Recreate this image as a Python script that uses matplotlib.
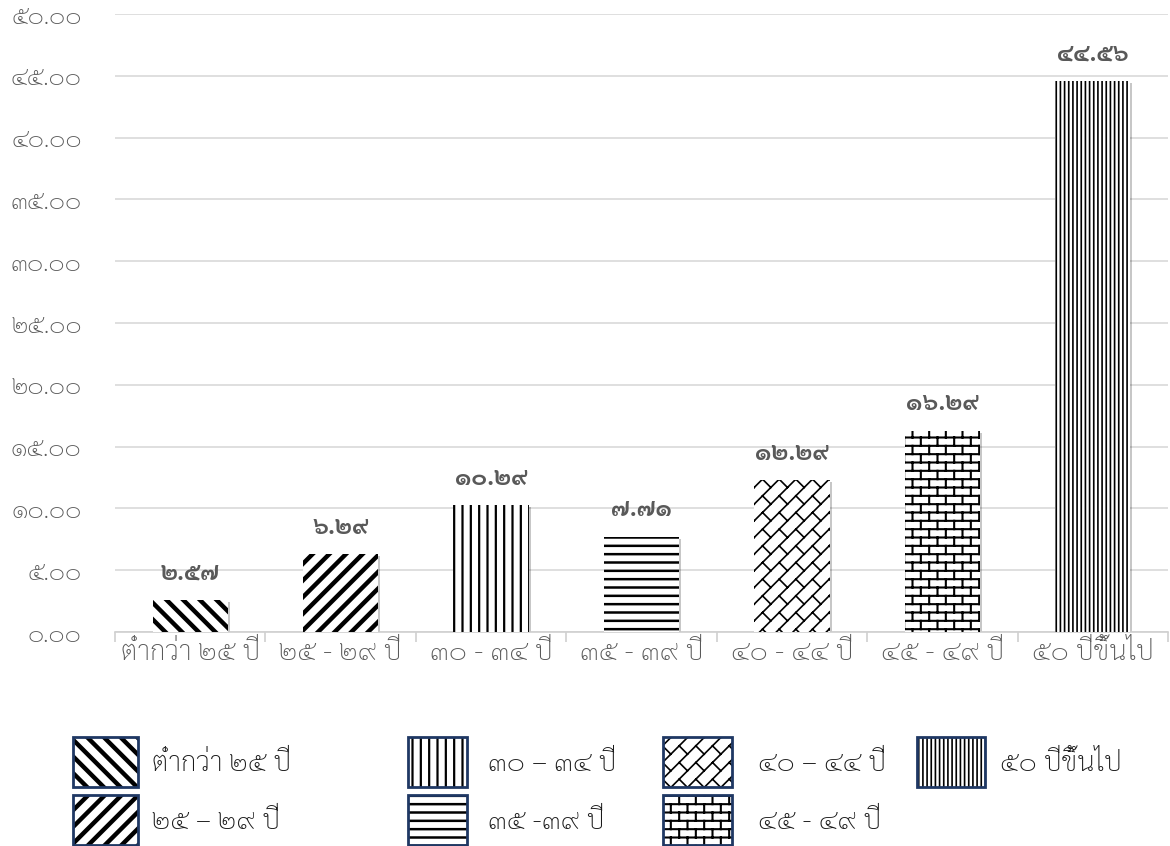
import matplotlib
matplotlib.use('Agg')
import matplotlib.pyplot as plt
import matplotlib.hatch as mhatch
import matplotlib.patheffects as pe
from matplotlib.patches import Patch
from matplotlib.legend_handler import HandlerTuple, HandlerPatch
from matplotlib.path import Path
import numpy as np

# data
categories = ['ต่ำกว่า ๒๕ ปี', '๒๕ - ๒๙ ปี', '๓๐ - ๓๔ ปี', '๓๕ - ๓๙ ปี',
              '๔๐ - ๔๔ ปี', '๔๕ - ๔๙ ปี', '๕๐ ปีขึ้นไป']
legend_labels = ['ต่ำกว่า ๒๕ ปี', '๒๕ – ๒๙ ปี', '๓๐ – ๓๔ ปี', '๓๕ -๓๙ ปี',
                 '๔๐ – ๔๔ ปี', '๔๕ - ๔๙ ปี', '๕๐ ปีขึ้นไป']
values = [2.57, 6.29, 10.29, 7.71, 12.29, 16.29, 44.56]
yticks = [0, 5, 10, 15, 20, 25, 30, 35, 40, 45, 50]

THAI = str.maketrans('0123456789', '๐๑๒๓๔๕๖๗๘๙')


def thai(s):
    return s.translate(THAI)


# brick hatches (horizontal 'b', diagonal 'k')
class HBrick(mhatch.HatchPatternBase):
    def __init__(self, hatch, density):
        n = hatch.count('b')
        self.rows = 2 * density * n
        self.bricks = density * n
        self.num_vertices = 0
        if n:
            self.num_vertices = self.rows * 2 + (self.rows + 2) * self.bricks * 2

    def set_vertices_and_codes(self, vertices, codes):
        i = 0
        for r in range(self.rows):
            y = (r + 0.5) / self.rows
            vertices[i] = (0, y)
            vertices[i + 1] = (1, y)
            codes[i] = Path.MOVETO
            codes[i + 1] = Path.LINETO
            i += 2
        for r in range(-1, self.rows + 1):
            y0 = (r + 0.5) / self.rows
            y1 = (r + 1.5) / self.rows
            for j in range(self.bricks):
                x = (j + 0.25 + 0.5 * (r % 2)) / self.bricks
                vertices[i] = (x, y0)
                vertices[i + 1] = (x, y1)
                codes[i] = Path.MOVETO
                codes[i + 1] = Path.LINETO
                i += 2


class DBrick(mhatch.HatchPatternBase):
    def __init__(self, hatch, density):
        n = hatch.count('k')
        self.n = density * n
        self.m = density * n
        self.ks = list(range(-self.n - 1, self.n + 1))
        self.js = list(range(-1, self.m + 2))
        self.num_vertices = 0
        if n:
            self.num_vertices = len(self.ks) * 2 + len(self.ks) * len(self.js) * 2

    def set_vertices_and_codes(self, vertices, codes):
        i = 0
        n, m = self.n, self.m
        for k in self.ks:
            c = (k + 0.5) / n
            vertices[i] = (-0.2, c - 0.2)
            vertices[i + 1] = (1.2, 1.2 + c)
            codes[i] = Path.MOVETO
            codes[i + 1] = Path.LINETO
            i += 2
        for k in self.ks:
            c = (k + 0.5) / n
            for j in self.js:
                x0 = (j + 0.25) / m
                vertices[i] = (x0, x0 + c)
                vertices[i + 1] = (x0 - 0.5 / n, x0 + c + 0.5 / n)
                codes[i] = Path.MOVETO
                codes[i + 1] = Path.LINETO
                i += 2


mhatch._hatch_types.extend([HBrick, DBrick])


class HatchHandler(HandlerPatch):
    # keep the hatch line width of the bar in the legend box
    def update_prop(self, legend_handle, orig_handle, legend):
        super().update_prop(legend_handle, orig_handle, legend)
        if hasattr(orig_handle, 'get_hatch_linewidth'):
            legend_handle.set_hatch_linewidth(orig_handle.get_hatch_linewidth())


hatches = ['\\\\', '//', '||', '--', 'k', 'b', '||||']
hatch_lw = [3.2, 3.2, 1.6, 1.8, 1.2, 1.5, 1.2]

plt.rcParams['font.family'] = ['Sarabun', 'Noto Sans Thai', 'Loma', 'DejaVu Sans']

fig = plt.figure(figsize=(11.7, 8.46), dpi=100)
ax = fig.add_axes([115 / 1170, 1 - 632 / 846, 1053 / 1170, 618 / 846])

x = np.arange(len(values))

# soft shadow under the bars
shadow = ax.bar(x, values, width=0.5, color='white', linewidth=0, zorder=2)
for b in shadow:
    b.set_path_effects([pe.SimplePatchShadow(offset=(1.5, -1.5), shadow_rgbFace='black', alpha=0.22),
                        pe.Normal()])

bars = ax.bar(x, values, width=0.5, facecolor='white', edgecolor='black',
              linewidth=0, zorder=3)
for b, h, lw in zip(bars, hatches, hatch_lw):
    b.set_hatch(h)
    if hasattr(b, 'set_hatch_linewidth'):
        b.set_hatch_linewidth(lw)

ax.bar_label(bars, labels=[thai(f'{v:.2f}') for v in values], padding=11,
             fontsize=17, fontweight='bold', color='#595959')

ax.set_xlim(-0.5, len(values) - 0.5)
ax.set_ylim(0, 50)
ax.set_yticks(yticks)
ax.set_yticklabels([thai(f'{v:.2f}') for v in yticks], fontweight='light')
ax.set_xticks(x)
ax.set_xticklabels(categories, fontweight='light')
ax.set_xticks(np.arange(len(values) + 1) - 0.5, minor=True)
ax.tick_params(axis='y', length=0, pad=24, labelsize=18, labelcolor='#595959')
ax.tick_params(axis='x', which='major', length=0, pad=5, labelsize=20, labelcolor='#595959')
ax.tick_params(axis='x', which='minor', length=7.5, width=1.2, color='#d0d0d0')

ax.grid(axis='y', color='#d9d9d9', linewidth=1.2, zorder=0)
ax.set_axisbelow(True)
for s in ['top', 'right', 'left']:
    ax.spines[s].set_visible(False)
ax.spines['bottom'].set_color('#d0d0d0')
ax.spines['bottom'].set_linewidth(1.2)


# legend in four columns
def handle(i):
    p = Patch(facecolor='white', edgecolor='black', linewidth=0, hatch=hatches[i])
    if hasattr(p, 'set_hatch_linewidth'):
        p.set_hatch_linewidth(hatch_lw[i])
    frame = Patch(facecolor='none', edgecolor='#1f3864', linewidth=2)
    return (p, frame)


fs = 20
px = fs * 100 / 72
hh = (50 / px - 0.245) / 0.65
columns = [([0, 1], 73, 65, 14), ([2, 3], 408, 59, 21), ([4, 5], 663, 69, 26), ([6], 917, 68, 15)]
for idx, left, w, gap in columns:
    leg = fig.legend([handle(i) for i in idx], [legend_labels[i] for i in idx],
                     handler_map={tuple: HandlerTuple(ndivide=1, pad=0), Patch: HatchHandler()},
                     loc='upper left', bbox_to_anchor=(left / 1170, 1 - 737 / 846),
                     frameon=False, fontsize=fs, borderpad=0, borderaxespad=0,
                     handlelength=w / px, handleheight=hh,
                     handletextpad=gap / px, labelspacing=8 / px)
    for t in leg.get_texts():
        t.set_color('#1a1a1a')
        t.set_fontweight('light')

fig.savefig('out.png', dpi=100)
